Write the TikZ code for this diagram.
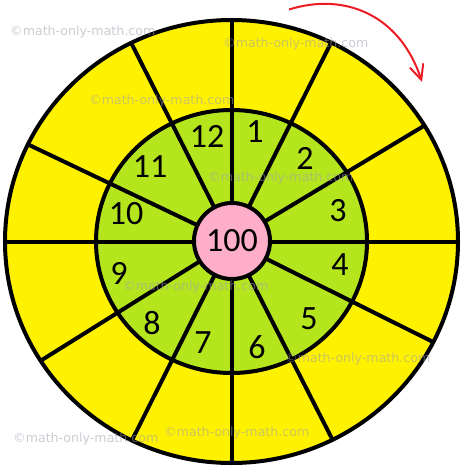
\documentclass[tikz,border=0pt]{standalone}
\usepackage{fontspec}
\newfontfamily\numfont{Carlito}
\newfontfamily\wmfont{DejaVu Sans}
\usetikzlibrary{arrows.meta,calc}
\definecolor{ringyellow}{RGB}{255,242,0}
\definecolor{ringgreen}{RGB}{181,230,29}
\definecolor{hubpink}{RGB}{255,174,201}
\definecolor{arrowred}{RGB}{237,28,36}
\definecolor{wmgray}{RGB}{160,160,175}
\tikzset{
  ringline/.style={line width=4pt, draw=black},
  spoke/.style={line width=4pt, draw=black},
  numlabel/.style={inner sep=0pt, font=\numfont\fontsize{34}{34}\selectfont, text=black},
  watermark/.style={inner sep=0pt, anchor=base west, font=\wmfont\fontsize{12.6}{12.6}\selectfont, text=wmgray, opacity=0.55},
  turnarrow/.style={line width=2pt, draw=arrowred, -{Straight Barb[length=15pt,width=14pt,line width=2pt]}}
}
\begin{document}
\begin{tikzpicture}[x=1pt,y=-1pt]
\useasboundingbox (0,0) rectangle (463,468);
\coordinate (C) at (231.5,241.5);
% outer ring
\fill[ringyellow] (C) ellipse [x radius=226.5, y radius=221.5];
% middle ring
\fill[ringgreen] (C) ellipse [x radius=135.5, y radius=131.5];
% spokes
\begin{scope}
\clip (C) ellipse [x radius=226.5, y radius=221.5];
\foreach \a in {-90,-63.4,-31,0,26.5,63,90,116.6,148,180,-154.5,-116.8}{
  \draw[spoke] (C) -- ($(C)+(\a:300)$);
}
\end{scope}
\draw[ringline] (C) ellipse [x radius=135.5, y radius=131.5];
\draw[ringline] (C) ellipse [x radius=226.5, y radius=221.5];
% hub
\node[circle, fill=hubpink, draw=black, line width=4pt, minimum size=76pt, inner sep=0pt] (hub) at (232,241) {};
\node[numlabel] (n100) at (232,241) {100};
% numbers
\node[numlabel] (n1) at (255,132) {1};
\node[numlabel] (n2) at (305,158) {2};
\node[numlabel] (n3) at (338,211) {3};
\node[numlabel] (n4) at (340,265) {4};
\node[numlabel] (n5) at (309,319) {5};
\node[numlabel] (n6) at (257,347) {6};
\node[numlabel] (n7) at (203,343) {7};
\node[numlabel] (n8) at (152,323) {8};
\node[numlabel] (n9) at (119,273) {9};
\node[numlabel] (n10) at (126,214) {10};
\node[numlabel] (n11) at (150,167) {11};
\node[numlabel] (n12) at (207,136) {12};
% arrow
\coordinate (as) at (289,9.5);
\coordinate (ae) at (422,82);
\draw[turnarrow] (as) .. controls (345,-8) and (400,15) .. (ae);
% watermarks
\node[watermark] (w1) at (10,36) {©math-only-math.com};
\node[watermark] (w2) at (223,48) {©math-only-math.com};
\node[watermark] (w3) at (89,105) {©math-only-math.com};
\node[watermark] (w4) at (208,181) {©math-only-math.com};
\node[watermark] (w5) at (123,290) {©math-only-math.com};
\node[watermark] (w6) at (285,362) {©math-only-math.com};
\node[watermark] (w7) at (13,442) {©math-only-math.com};
\node[watermark] (w8) at (164,436) {©math-only-math.com};
\end{tikzpicture}
\end{document}
